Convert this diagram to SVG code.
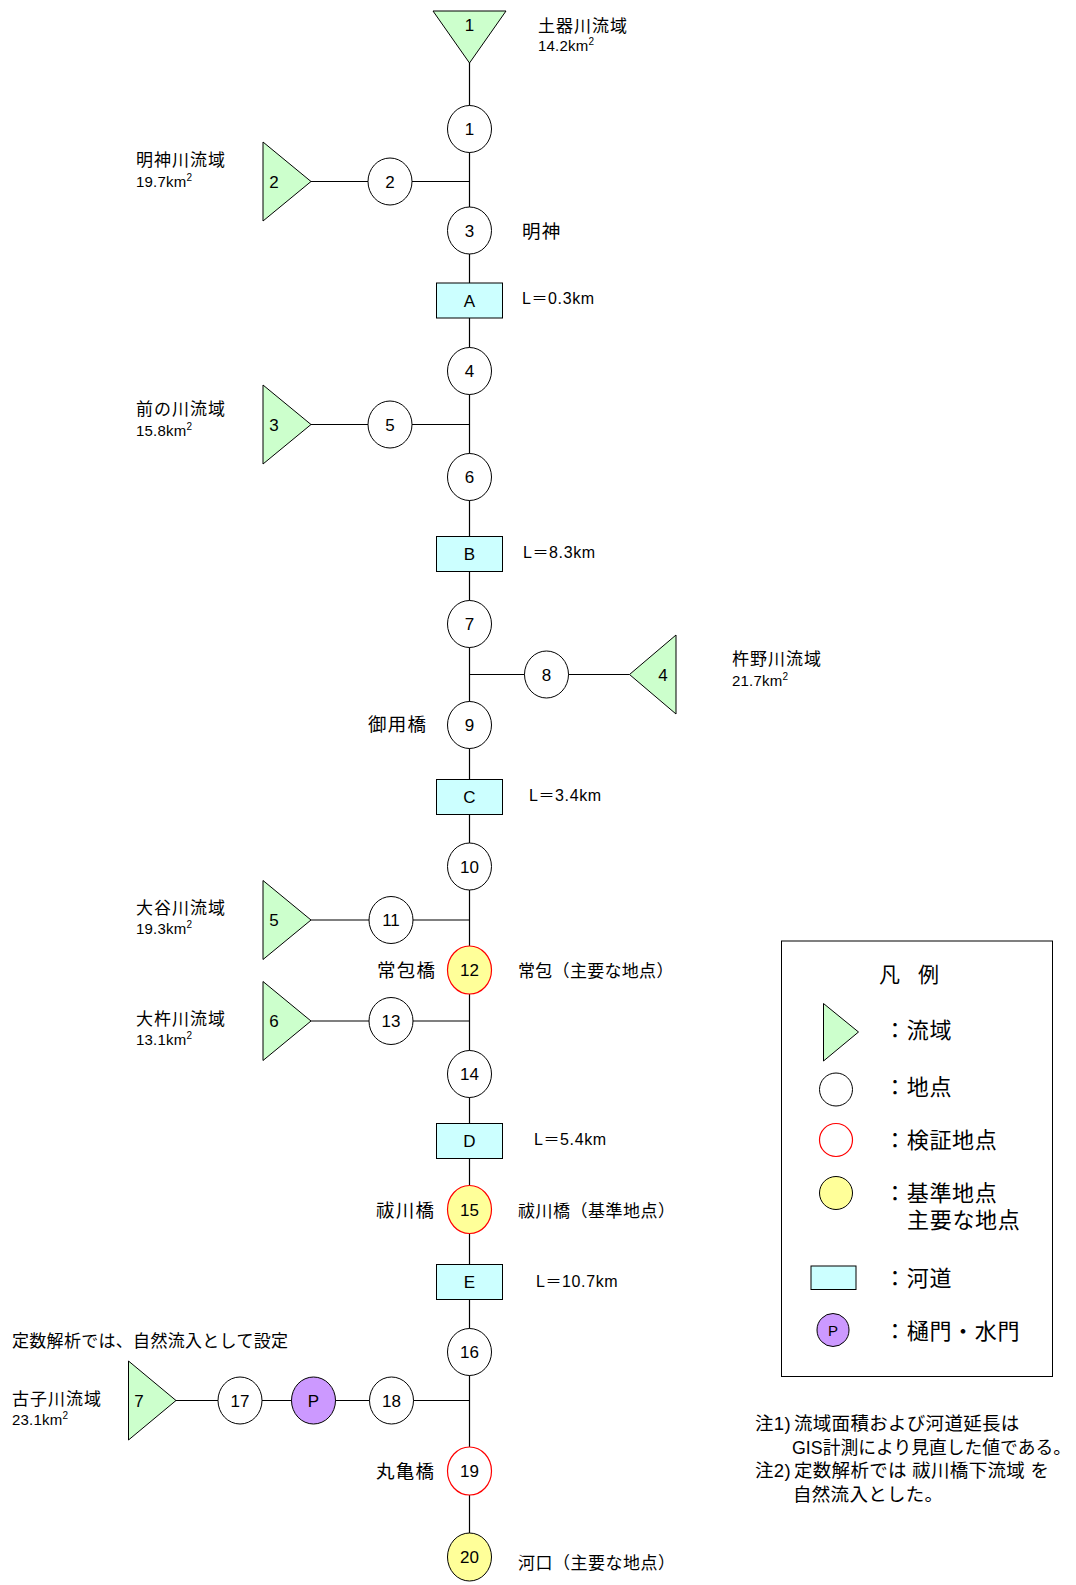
<svg xmlns="http://www.w3.org/2000/svg" width="1076" height="1585" viewBox="0 0 1076 1585">
<style>
.ln{stroke:#000;stroke-width:1.2;fill:none}
.tri{fill:#ccffcc;stroke:#000;stroke-width:1}
.pt{fill:#fff;stroke:#000;stroke-width:1}
.vf{fill:#fff;stroke:#f00;stroke-width:1.2}
.ky{fill:#ffff99;stroke:#f00;stroke-width:1.2}
.ky2{fill:#ffff99;stroke:#000;stroke-width:1}
.ch{fill:#ccffff;stroke:#000;stroke-width:1}
.gate{fill:#cc99ff;stroke:#000;stroke-width:1}
.n{font-family:"Liberation Sans",Arial,sans-serif;font-size:17px;text-anchor:middle;fill:#000}
.jp{font-family:"Liberation Sans","Noto Sans CJK JP",sans-serif;font-size:17px;letter-spacing:1px;fill:#000}
.br{font-family:"Liberation Sans","Noto Sans CJK JP",sans-serif;font-size:18.5px;letter-spacing:1.2px;fill:#000}
.km{font-family:"Liberation Sans",Arial,sans-serif;font-size:15px;letter-spacing:0.2px;fill:#000}
.sup{font-size:10px}
.L{font-family:"Liberation Sans","Noto Sans CJK JP",sans-serif;font-size:16px;letter-spacing:0.6px;fill:#000}
.lg{font-family:"Liberation Sans","Noto Sans CJK JP",sans-serif;font-size:22px;letter-spacing:0.7px;fill:#000}
.nt{font-family:"Liberation Sans","Noto Sans CJK JP",sans-serif;font-size:18.5px;letter-spacing:0.3px;fill:#000}
</style>
<rect width="1076" height="1585" fill="#fff"/>
<g id="connectors">
<path class="ln" d="M469.5,63 V1533"/>
<path class="ln" d="M311,181.5 H469.5"/>
<path class="ln" d="M311,424.5 H469.5"/>
<path class="ln" d="M469.5,674.5 H629.5"/>
<path class="ln" d="M311,920 H469.5"/>
<path class="ln" d="M311,1021 H469.5"/>
<path class="ln" d="M176,1400.5 H469.5"/>
</g>
<g id="basin1"><polygon class="tri" points="433,11 506,11 469.5,63"/><text class="n" x="469.5" y="31">1</text></g>
<g id="basin2"><polygon class="tri" points="263,142 311,181.5 263,221"/><text class="n" x="274" y="187.5">2</text></g>
<g id="basin3"><polygon class="tri" points="263,385 311,424.5 263,464"/><text class="n" x="274" y="430.5">3</text></g>
<g id="basin4"><polygon class="tri" points="676,635 629.5,674.5 676,714"/><text class="n" x="663" y="680.5">4</text></g>
<g id="basin5"><polygon class="tri" points="263,880.5 311,920 263,959.5"/><text class="n" x="274" y="926">5</text></g>
<g id="basin6"><polygon class="tri" points="263,981.5 311,1021 263,1060.5"/><text class="n" x="274" y="1027">6</text></g>
<g id="basin7"><polygon class="tri" points="128.5,1361 176,1400.5 128.5,1440"/><text class="n" x="139" y="1406.5">7</text></g>

<g id="p1"><ellipse class="pt" cx="469.5" cy="129" rx="22" ry="23.5"/><text class="n" x="469.5" y="135">1</text></g>
<g id="p2"><ellipse class="pt" cx="390" cy="181.5" rx="22" ry="23.5"/><text class="n" x="390" y="187.5">2</text></g>
<g id="p3"><ellipse class="pt" cx="469.5" cy="230.5" rx="22" ry="23.5"/><text class="n" x="469.5" y="236.5">3</text></g>
<g id="rA"><rect class="ch" x="436.5" y="283" width="66" height="35"/><text class="n" x="469.5" y="306.5">A</text></g>
<g id="p4"><ellipse class="pt" cx="469.5" cy="371" rx="22" ry="23.5"/><text class="n" x="469.5" y="377">4</text></g>
<g id="p5"><ellipse class="pt" cx="390" cy="424.5" rx="22" ry="23.5"/><text class="n" x="390" y="430.5">5</text></g>
<g id="p6"><ellipse class="pt" cx="469.5" cy="477" rx="22" ry="23.5"/><text class="n" x="469.5" y="483">6</text></g>
<g id="rB"><rect class="ch" x="436.5" y="536.5" width="66" height="35"/><text class="n" x="469.5" y="560">B</text></g>
<g id="p7"><ellipse class="pt" cx="469.5" cy="624" rx="22" ry="23.5"/><text class="n" x="469.5" y="630">7</text></g>
<g id="p8"><ellipse class="pt" cx="546.5" cy="674.5" rx="22" ry="23.5"/><text class="n" x="546.5" y="680.5">8</text></g>
<g id="p9"><ellipse class="pt" cx="469.5" cy="725" rx="22" ry="23.5"/><text class="n" x="469.5" y="731">9</text></g>
<g id="rC"><rect class="ch" x="436.5" y="779.5" width="66" height="35"/><text class="n" x="469.5" y="803">C</text></g>
<g id="p10"><ellipse class="pt" cx="469.5" cy="866.5" rx="22" ry="23.5"/><text class="n" x="469.5" y="872.5">10</text></g>
<g id="p11"><ellipse class="pt" cx="391" cy="920" rx="22" ry="23.5"/><text class="n" x="391" y="926">11</text></g>
<g id="p12"><ellipse class="ky" cx="469.5" cy="970" rx="22" ry="24"/><text class="n" x="469.5" y="976">12</text></g>
<g id="p13"><ellipse class="pt" cx="391" cy="1021" rx="22" ry="23.5"/><text class="n" x="391" y="1027">13</text></g>
<g id="p14"><ellipse class="pt" cx="469.5" cy="1074" rx="22" ry="23.5"/><text class="n" x="469.5" y="1080">14</text></g>
<g id="rD"><rect class="ch" x="436.5" y="1123.5" width="66" height="35"/><text class="n" x="469.5" y="1147">D</text></g>
<g id="p15"><ellipse class="ky" cx="469.5" cy="1209.5" rx="22" ry="24"/><text class="n" x="469.5" y="1215.5">15</text></g>
<g id="rE"><rect class="ch" x="436.5" y="1264.5" width="66" height="35"/><text class="n" x="469.5" y="1288">E</text></g>
<g id="p16"><ellipse class="pt" cx="469.5" cy="1352" rx="22" ry="23.5"/><text class="n" x="469.5" y="1358">16</text></g>
<g id="p17"><ellipse class="pt" cx="240" cy="1400.5" rx="22" ry="23.5"/><text class="n" x="240" y="1406.5">17</text></g>
<g id="gP"><ellipse class="gate" cx="313.5" cy="1400.5" rx="22" ry="23.5"/><text class="n" x="313.5" y="1406.5">P</text></g>
<g id="p18"><ellipse class="pt" cx="391.5" cy="1400.5" rx="22" ry="23.5"/><text class="n" x="391.5" y="1406.5">18</text></g>
<g id="p19"><ellipse class="vf" cx="469.5" cy="1471" rx="22" ry="24"/><text class="n" x="469.5" y="1477">19</text></g>
<g id="p20"><ellipse class="ky2" cx="469.5" cy="1557" rx="22" ry="24"/><text class="n" x="469.5" y="1563">20</text></g>

<g id="labels">
<text class="jp" x="538" y="31.5">土器川流域</text>
<text class="km" x="538" y="51">14.2km<tspan class="sup" dy="-6">2</tspan></text>
<text class="br" x="522" y="238">明神</text>
<text class="L" x="522" y="304">L＝0.3km</text>
<text class="jp" x="136" y="165.5">明神川流域</text>
<text class="km" x="136" y="187">19.7km<tspan class="sup" dy="-6">2</tspan></text>
<text class="jp" x="136" y="415">前の川流域</text>
<text class="km" x="136" y="435.5">15.8km<tspan class="sup" dy="-6">2</tspan></text>
<text class="L" x="523" y="557.5">L＝8.3km</text>
<text class="jp" x="732" y="665">杵野川流域</text>
<text class="km" x="732" y="686">21.7km<tspan class="sup" dy="-6">2</tspan></text>
<text class="br" x="368" y="731">御用橋</text>
<text class="L" x="529" y="800.5">L＝3.4km</text>
<text class="jp" x="136" y="913.5">大谷川流域</text>
<text class="km" x="136" y="933.5">19.3km<tspan class="sup" dy="-6">2</tspan></text>
<text class="br" x="377" y="977">常包橋</text>
<text class="jp" x="518" y="977" style="letter-spacing:0.3px">常包（主要な地点）</text>
<text class="jp" x="136" y="1024.5">大杵川流域</text>
<text class="km" x="136" y="1044.5">13.1km<tspan class="sup" dy="-6">2</tspan></text>
<text class="L" x="534" y="1144.5">L＝5.4km</text>
<text class="br" x="376" y="1216.5">祓川橋</text>
<text class="jp" x="518" y="1216.5" style="letter-spacing:0.5px">祓川橋（基準地点）</text>
<text class="L" x="536" y="1287">L＝10.7km</text>
<text class="jp" x="12" y="1347" style="letter-spacing:0.3px">定数解析では、自然流入として設定</text>
<text class="jp" x="12" y="1405">古子川流域</text>
<text class="km" x="12" y="1424.5">23.1km<tspan class="sup" dy="-6">2</tspan></text>
<text class="br" x="376" y="1478">丸亀橋</text>
<text class="jp" x="518" y="1569" style="letter-spacing:0.5px">河口（主要な地点）</text>
</g>

<g id="legend">
<rect x="781.5" y="941" width="271" height="435.5" fill="#fff" stroke="#000" stroke-width="1"/>
<text class="lg" y="982" style="font-size:21px;letter-spacing:0"><tspan x="879">凡</tspan><tspan x="918">例</tspan></text>
<polygon class="tri" points="823.5,1003.5 858.5,1032 823.5,1061"/>
<text class="lg" x="884" y="1038">：流域</text>
<ellipse class="pt" cx="836" cy="1089.5" rx="16.5" ry="16.5"/>
<text class="lg" x="884" y="1095">：地点</text>
<ellipse class="vf" cx="836" cy="1140" rx="16.5" ry="16.5"/>
<text class="lg" x="884" y="1148">：検証地点</text>
<ellipse class="ky2" cx="836" cy="1193" rx="16.5" ry="16.5"/>
<text class="lg" x="884" y="1201">：基準地点</text>
<text class="lg" x="907" y="1228">主要な地点</text>
<rect class="ch" x="811" y="1266" width="45" height="23.5"/>
<text class="lg" x="884" y="1286">：河道</text>
<ellipse class="gate" cx="833" cy="1330" rx="16" ry="16.5"/>
<text class="n" x="833" y="1335.5" style="font-size:15px">P</text>
<text class="lg" x="884" y="1339">：樋門・水門</text>
</g>

<g id="notes">
<text class="nt" y="1430"><tspan x="755">注1)</tspan><tspan x="794">流域面積および河道延長は</tspan></text>
<text class="nt" x="792" y="1453.5" style="font-size:17.8px;letter-spacing:0">GIS計測により見直した値である。</text>
<text class="nt" y="1477"><tspan x="755">注2)</tspan><tspan x="794">定数解析では 祓川橋下流域 を</tspan></text>
<text class="nt" x="793" y="1500.5">自然流入とした。</text>
</g>
</svg>
